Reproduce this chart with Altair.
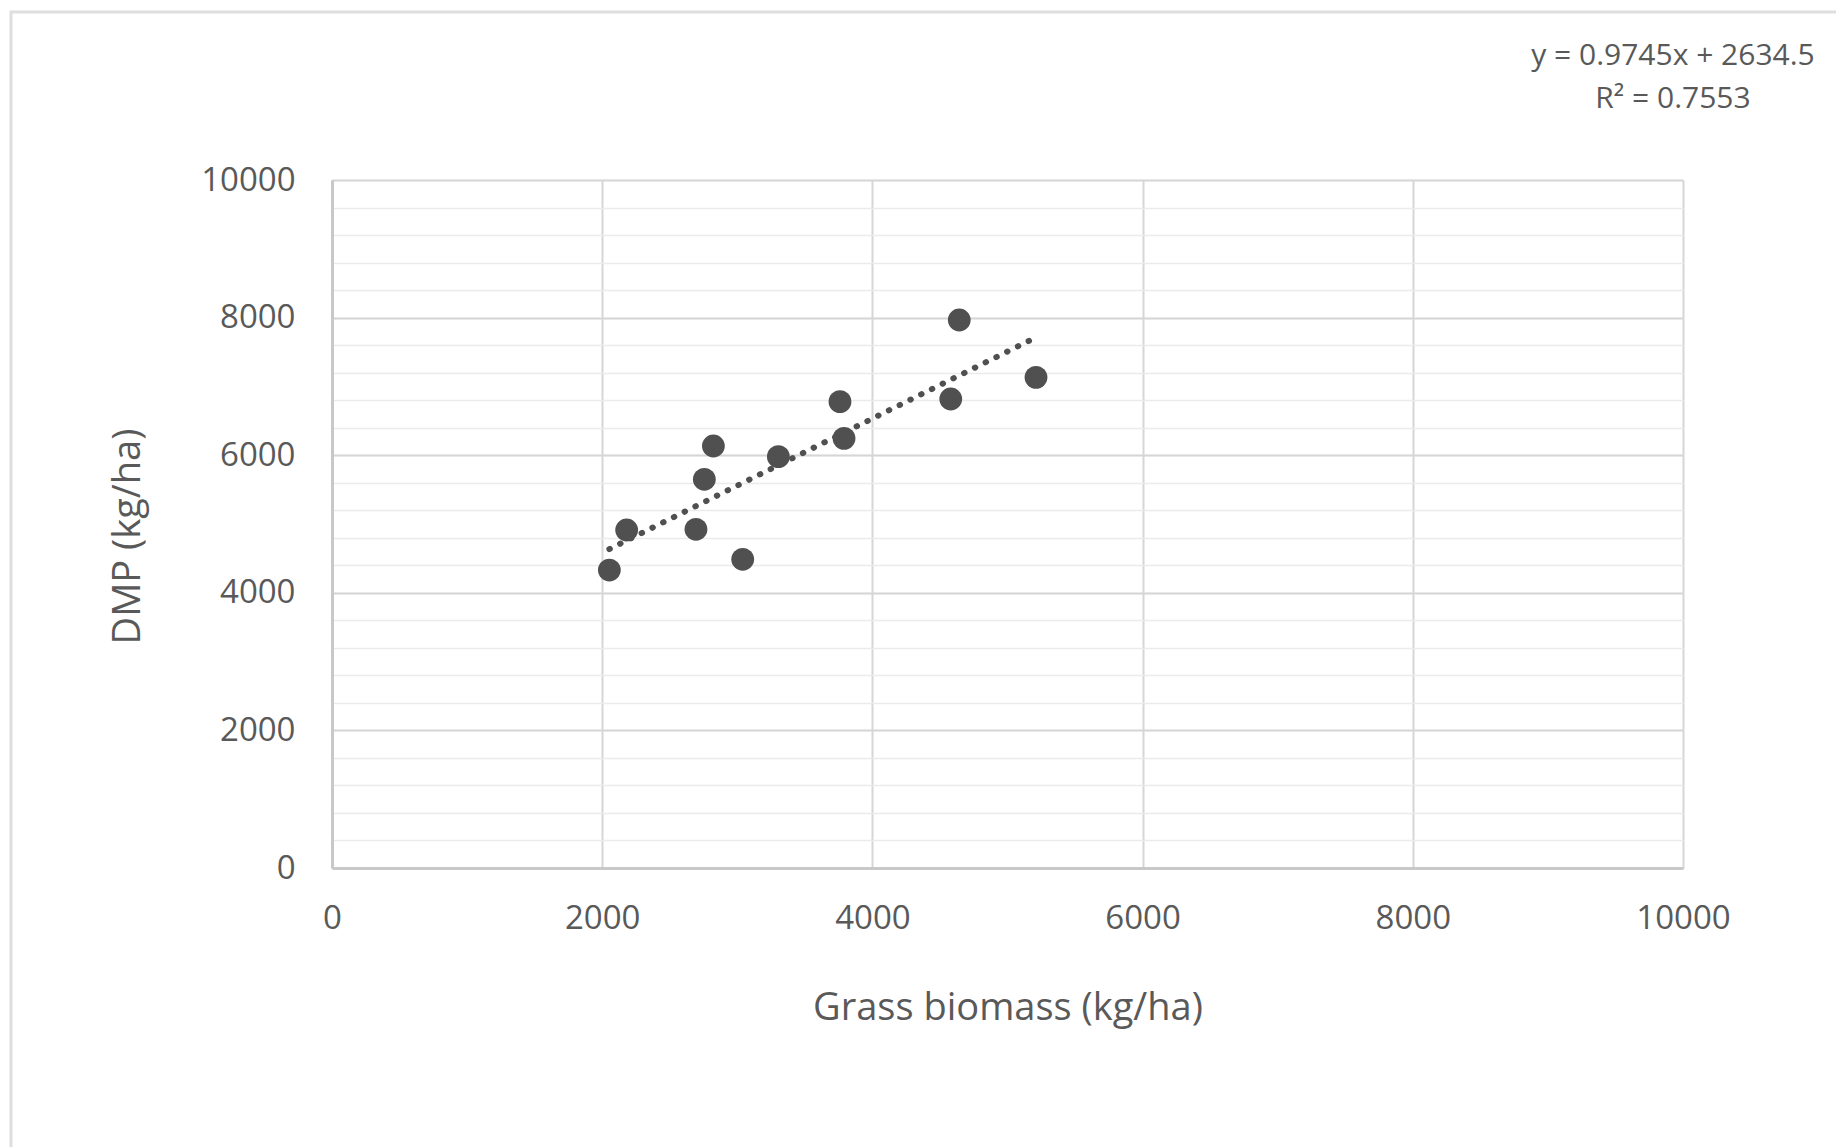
import altair as alt
import pandas as pd

# Data
grass_biomass = [2053, 2181, 2694, 3040, 2756, 2823, 3304, 3760, 3790, 4580, 4643, 5211]
dmp = [4331, 4913, 4923, 4487, 5650, 6134, 5979, 6778, 6245, 6817, 7965, 7132]

# Trendline from the equation printed on the chart
slope = 0.9745
intercept = 2634.5
r2 = 0.7553

major_ticks = [0, 2000, 4000, 6000, 8000, 10000]
minor_ticks = list(range(0, 10001, 400))

df = pd.DataFrame({"x": grass_biomass, "y": dmp})
trend_x = [min(grass_biomass), max(grass_biomass)]
trend_df = pd.DataFrame({"x": trend_x, "y": [slope * v + intercept for v in trend_x]})

FONT = "Open Sans"
TXT = "#595959"
W, H = 1351, 688

xs = alt.Scale(domain=[0, 10000], nice=False, zero=False)
ys = alt.Scale(domain=[0, 10000], nice=False, zero=False)

# Minor grid layer (independent axis, no labels)
minor = alt.Chart(df).mark_point(opacity=0).encode(
    x=alt.X("x:Q", scale=xs, axis=None),
    y=alt.Y("y:Q", scale=ys, axis=alt.Axis(values=minor_ticks, orient="right", labels=False,
                                            ticks=False, domain=False, title=None, grid=True,
                                            gridColor="#ebebeb", gridWidth=1.5)),
)

points = alt.Chart(df).mark_circle(size=520, color="#505050", opacity=1).encode(
    x=alt.X("x:Q", scale=xs, axis=alt.Axis(
        values=major_ticks, title="Grass biomass (kg/ha)", grid=True, gridColor="#d6d6d6",
        gridWidth=2, ticks=False, domainColor="#c8c8c8", domainWidth=3, labelPadding=34,
        labelFlush=False,
        labelFontSize=33, labelColor=TXT, labelFont=FONT, titleFont=FONT, titleFontSize=38,
        titleColor=TXT, titleFontWeight="normal", titlePadding=54, format="d")),
    y=alt.Y("y:Q", scale=ys, axis=alt.Axis(
        values=major_ticks, title="DMP (kg/ha)", grid=True, gridColor="#d6d6d6",
        gridWidth=2, ticks=False, domainColor="#c8c8c8", domainWidth=3, labelPadding=37,
        labelFlush=False,
        labelFontSize=33, labelColor=TXT, labelFont=FONT, titleFont=FONT, titleFontSize=38,
        titleColor=TXT, titleFontWeight="normal", titlePadding=53, titleY=356, format="d")),
)

trend = alt.Chart(trend_df).mark_line(color="#505050", strokeWidth=6, strokeDash=[0.5, 11.5],
                                      strokeCap="round").encode(
    x=alt.X("x:Q", scale=xs, axis=None), y=alt.Y("y:Q", scale=ys, axis=None))

eq_lines = pd.DataFrame({"t": [f"y = {slope}x + {intercept}", f"R² = {r2}"]})
eq1 = alt.Chart(eq_lines.iloc[[0]]).mark_text(font=FONT, fontSize=30, color=TXT, align="center",
                                              baseline="middle").encode(
    text="t:N", x=alt.value(1341), y=alt.value(-124))
eq2 = alt.Chart(eq_lines.iloc[[1]]).mark_text(font=FONT, fontSize=30, color=TXT, align="center",
                                              baseline="middle").encode(
    text="t:N", x=alt.value(1341), y=alt.value(-81))

frame = alt.Chart(pd.DataFrame({"a": [0]})).mark_rect(fill=None, stroke="#dedede",
                                                       strokeWidth=3).encode(
    x=alt.value(-321), y=alt.value(-168), x2=alt.value(1600), y2=alt.value(1100))

chart = alt.layer(frame, minor, points, trend, eq1, eq2).resolve_axis(
    x="independent", y="independent"
).properties(
    width=W, height=H, autosize=alt.AutoSizeParams(type="none"),
    padding={"left": 332, "top": 180, "right": 153, "bottom": 279},
).configure_view(stroke="#d0d0d0", strokeWidth=2).configure(background="white")

chart.save("out.html", embed_options={"renderer": "svg", "actions": False})
